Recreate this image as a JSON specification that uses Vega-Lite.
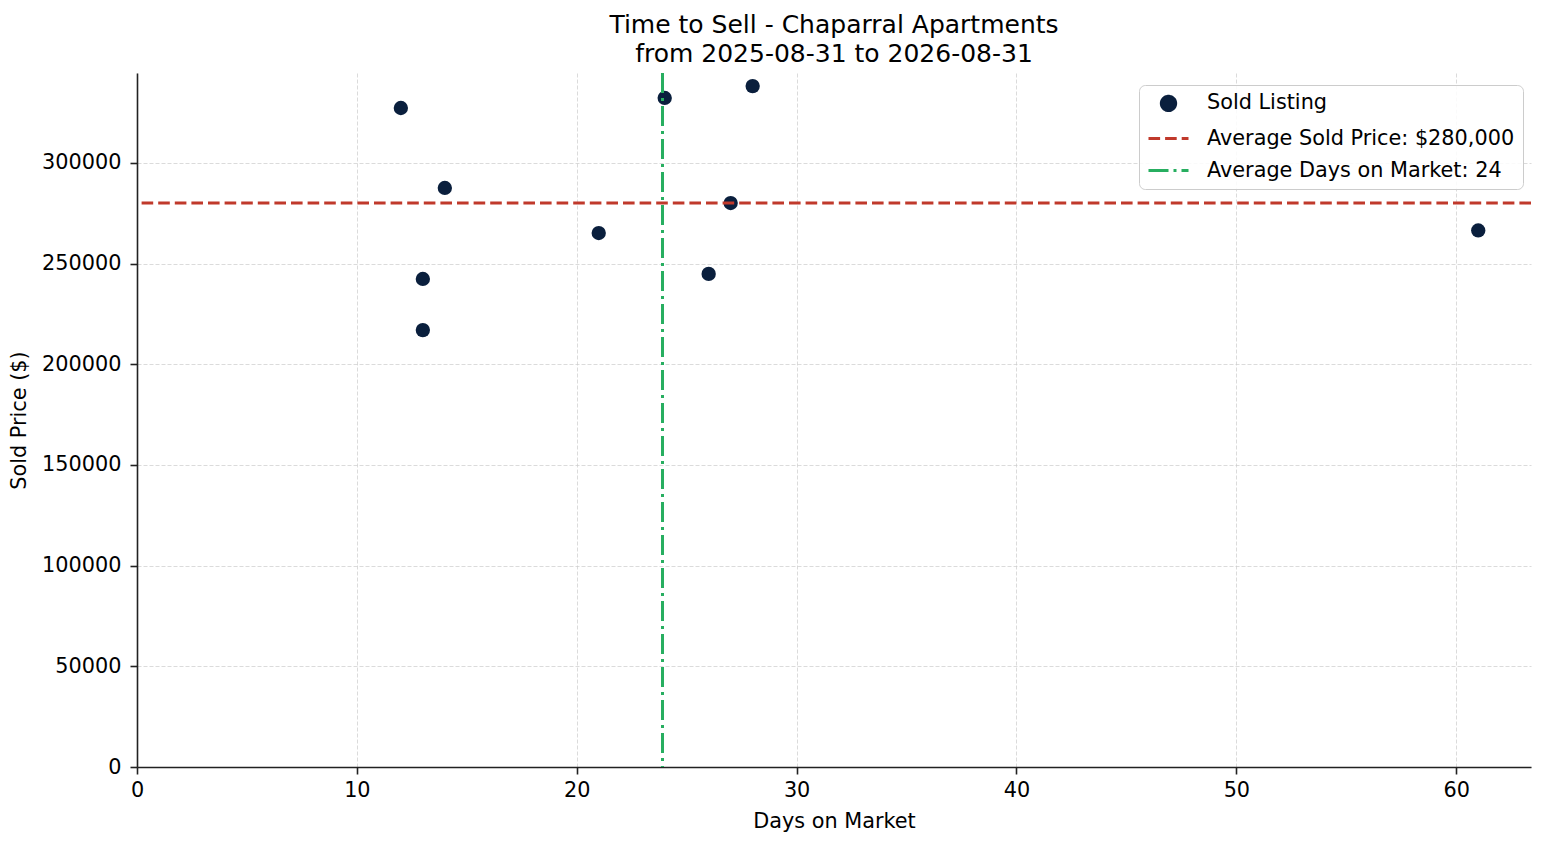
{
  "$schema": "https://vega.github.io/schema/vega-lite/v6.json",
  "width": 1394,
  "height": 694,
  "autosize": "none",
  "padding": {"left": 137, "top": 73, "right": 16, "bottom": 78},
  "background": "white",
  "title": {
    "text": ["Time to Sell - Chaparral Apartments", "from 2025-08-31 to 2026-08-31"],
    "font": "DejaVu Sans",
    "fontSize": 25,
    "fontWeight": "normal",
    "color": "black",
    "lineHeight": 29,
    "offset": 5
  },
  "config": {
    "view": {"stroke": null},
    "font": "DejaVu Sans",
    "axis": {
      "labelFont": "DejaVu Sans",
      "labelFontSize": 20.8,
      "labelColor": "black",
      "titleFont": "DejaVu Sans",
      "titleFontSize": 20.8,
      "titleFontWeight": "normal",
      "titleColor": "black",
      "domainColor": "#222222",
      "domainWidth": 1.6,
      "tickColor": "#222222",
      "tickWidth": 1.6,
      "tickSize": 7,
      "labelPadding": 6,
      "grid": true,
      "gridColor": "#cccccc",
      "gridDash": [4, 2],
      "gridWidth": 0.7,
      "labelFlush": false,
      "labelOverlap": false
    },
    "legend": {
      "labelFont": "DejaVu Sans",
      "labelFontSize": 20.8,
      "labelColor": "black",
      "labelLimit": 600,
      "symbolStrokeWidth": 3
    }
  },
  "layer": [
    {
      "data": {
        "values": [
          {"days": 12, "price": 327300, "series": "Sold Listing"},
          {"days": 13, "price": 242400, "series": "Sold Listing"},
          {"days": 13, "price": 217000, "series": "Sold Listing"},
          {"days": 14, "price": 287600, "series": "Sold Listing"},
          {"days": 21, "price": 265200, "series": "Sold Listing"},
          {"days": 24, "price": 332300, "series": "Sold Listing"},
          {"days": 26, "price": 244900, "series": "Sold Listing"},
          {"days": 27, "price": 280100, "series": "Sold Listing"},
          {"days": 28, "price": 338200, "series": "Sold Listing"},
          {"days": 61, "price": 266500, "series": "Sold Listing"}
        ]
      },
      "mark": {"type": "point", "filled": true, "opacity": 1},
      "encoding": {
        "x": {
          "field": "days",
          "type": "quantitative",
          "scale": {"domain": [0, 63.4], "nice": false, "zero": false},
          "axis": {
            "title": "Days on Market",
            "values": [0, 10, 20, 30, 40, 50, 60],
            "format": "d",
            "titlePadding": 12
          }
        },
        "y": {
          "field": "price",
          "type": "quantitative",
          "scale": {"domain": [0, 344700], "nice": false, "zero": false},
          "axis": {
            "title": "Sold Price ($)",
            "values": [0, 50000, 100000, 150000, 200000, 250000, 300000],
            "format": "d",
            "labelPadding": 9,
            "titlePadding": 12
          }
        },
        "color": {
          "field": "series",
          "type": "nominal",
          "scale": {
            "domain": ["Sold Listing", "Average Sold Price: $280,000", "Average Days on Market: 24"],
            "range": ["#0a1f3d", "#c0392b", "#27ae60"]
          },
          "legend": {
            "title": null,
            "orient": "none",
            "legendX": 1002,
            "legendY": 12,
            "padding": 8,
            "rowPadding": -7,
            "labelOffset": 17,
            "fillColor": "rgba(255,255,255,0.85)",
            "strokeColor": "#cccccc",
            "cornerRadius": 6
          }
        },
        "shape": {
          "field": "series",
          "type": "nominal",
          "scale": {
            "domain": ["Sold Listing", "Average Sold Price: $280,000", "Average Days on Market: 24"],
            "range": ["circle", "stroke", "stroke"]
          },
          "legend": {"title": null}
        },
        "size": {
          "field": "series",
          "type": "nominal",
          "scale": {
            "type": "ordinal",
            "domain": ["Sold Listing", "Average Sold Price: $280,000", "Average Days on Market: 24"],
            "range": [205, 1600, 1600]
          },
          "legend": {"title": null}
        }
      }
    },
    {
      "data": {"values": [{"price": 280120, "series": "Average Sold Price: $280,000"}]},
      "mark": {"type": "rule", "strokeWidth": 3},
      "encoding": {
        "y": {"field": "price", "type": "quantitative"},
        "color": {
          "field": "series",
          "type": "nominal",
          "scale": {
            "domain": ["Sold Listing", "Average Sold Price: $280,000", "Average Days on Market: 24"],
            "range": ["#0a1f3d", "#c0392b", "#27ae60"]
          }
        },
        "strokeDash": {
          "field": "series",
          "type": "nominal",
          "scale": {
            "domain": ["Sold Listing", "Average Sold Price: $280,000", "Average Days on Market: 24"],
            "range": [[1, 0], [11.6, 5], [20, 5, 3, 5]]
          },
          "legend": {"title": null}
        }
      }
    },
    {
      "data": {"values": [{"days": 23.9, "series": "Average Days on Market: 24"}]},
      "mark": {"type": "rule", "strokeWidth": 3},
      "encoding": {
        "x": {"field": "days", "type": "quantitative"},
        "color": {
          "field": "series",
          "type": "nominal",
          "scale": {
            "domain": ["Sold Listing", "Average Sold Price: $280,000", "Average Days on Market: 24"],
            "range": ["#0a1f3d", "#c0392b", "#27ae60"]
          }
        },
        "strokeDash": {
          "field": "series",
          "type": "nominal",
          "scale": {
            "domain": ["Sold Listing", "Average Sold Price: $280,000", "Average Days on Market: 24"],
            "range": [[1, 0], [11.6, 5], [20, 5, 3, 5]]
          },
          "legend": {"title": null}
        }
      }
    }
  ]
}
